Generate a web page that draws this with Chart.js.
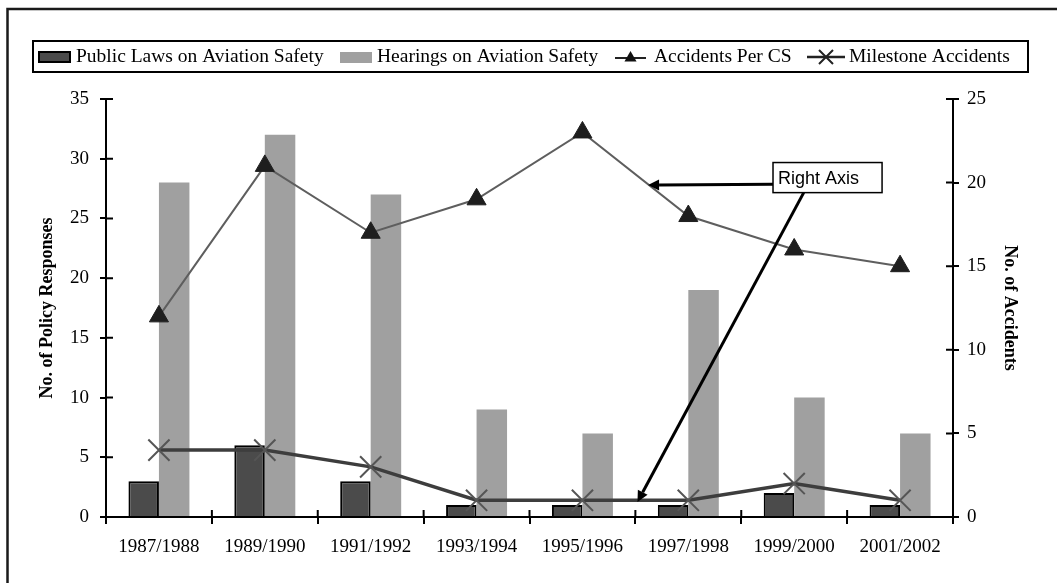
<!DOCTYPE html>
<html>
<head>
<meta charset="utf-8">
<script src="https://cdn.jsdelivr.net/npm/chart.js@4.4.0/dist/chart.umd.min.js"></script>
<style>
html,body{margin:0;padding:0;background:#fff;}
#wrap{position:relative;width:1057px;height:583px;}
</style>
</head>
<body>
<div id="wrap"><canvas id="c" width="1057" height="583"></canvas></div>
<script>
// ---- data ----
const categories = ['1987/1988','1989/1990','1991/1992','1993/1994','1995/1996','1997/1998','1999/2000','2001/2002'];
const publicLaws = [3, 6, 3, 1, 1, 1, 2, 1];
const hearings = [28, 32, 27, 9, 7, 19, 10, 7];
const accidentsPerCS = [12, 21, 17, 19, 23, 18, 16, 15];
const milestoneAccidents = [4, 4, 3, 1, 1, 1, 2, 1];
const leftTicks = [0, 5, 10, 15, 20, 25, 30, 35];
const rightTicks = [0, 5, 10, 15, 20, 25];
const seriesNames = ['Public Laws on Aviation Safety', 'Hearings on Aviation Safety', 'Accidents Per CS', 'Milestone Accidents'];
const axisTitles = ['No. of Policy Responses', 'No. of Accidents'];
const noteText = 'Right Axis';

// annotation anchors in data units (category index, right-axis value)
const noteBox = {x0: 5.80, y0: 21.2, x1: 6.83, y1: 19.4};
const arrowA = {from: [5.80, 19.9], to: [4.62, 19.85]};
const arrowB = {from: [6.09, 19.4], to: [4.52, 0.9]};

const SERIF = '"Liberation Serif", "Times New Roman", serif';
const SANS = '"Liberation Sans", Arial, sans-serif';
const DARK = '#4b4b4b';
const GRAY = '#a0a0a0';
const ACC_LINE = '#5e5e5e';
const MS_LINE = '#3d3d3d';
const MS_MARK = '#555555';

function drawX(ctx, x, y, h) {
  ctx.beginPath();
  ctx.moveTo(x - h, y - h); ctx.lineTo(x + h, y + h);
  ctx.moveTo(x + h, y - h); ctx.lineTo(x - h, y + h);
  ctx.stroke();
}
function drawTri(ctx, x, y, r) {
  ctx.beginPath();
  ctx.moveTo(x, y - r);
  ctx.lineTo(x + r * 0.866, y + r * 0.5);
  ctx.lineTo(x - r * 0.866, y + r * 0.5);
  ctx.closePath();
  ctx.fill();
}
function arrow(ctx, x0, y0, x1, y1) {
  const ang = Math.atan2(y1 - y0, x1 - x0);
  const L = 11, W = 5.5;
  const bx = x1 - Math.cos(ang) * L, by = y1 - Math.sin(ang) * L;
  ctx.beginPath();
  ctx.moveTo(x0, y0); ctx.lineTo(bx, by);
  ctx.stroke();
  ctx.beginPath();
  ctx.moveTo(x1, y1);
  ctx.lineTo(bx + Math.sin(ang) * W, by - Math.cos(ang) * W);
  ctx.lineTo(bx - Math.sin(ang) * W, by + Math.cos(ang) * W);
  ctx.closePath();
  ctx.fill();
}

const framePlugin = {
  id: 'frame',
  beforeDraw(chart) {
    const ctx = chart.ctx;
    ctx.save();
    ctx.fillStyle = '#fff';
    ctx.fillRect(0, 0, chart.width, chart.height);
    ctx.restore();
  },
  afterDraw(chart) {
    const ctx = chart.ctx;
    ctx.save();
    ctx.strokeStyle = '#1a1a1a';
    ctx.lineWidth = 2.5;
    ctx.beginPath();
    ctx.moveTo(7.5, chart.height + 5);
    ctx.lineTo(7.5, 9);
    ctx.lineTo(chart.width + 5, 9);
    ctx.stroke();
    ctx.restore();
  }
};

const innerTicks = {
  id: 'innerTicks',
  afterDraw(chart) {
    const ctx = chart.ctx;
    const {x, y, y1} = chart.scales;
    ctx.save();
    ctx.strokeStyle = '#000';
    ctx.lineWidth = 2;
    ctx.beginPath();
    y.ticks.forEach((t, i) => { const p = y.getPixelForTick(i); ctx.moveTo(y.right, p); ctx.lineTo(y.right + 7, p); });
    y1.ticks.forEach((t, i) => { const p = y1.getPixelForTick(i); ctx.moveTo(y1.left, p); ctx.lineTo(y1.left - 7, p); });
    const n = categories.length;
    for (let i = 0; i <= n; i++) {
      const p = x.left + i * (x.width / n);
      ctx.moveTo(p, x.top); ctx.lineTo(p, x.top - 7);
    }
    ctx.stroke();
    ctx.restore();
  }
};

const legendPlugin = {
  id: 'customLegend',
  afterDraw(chart) {
    const ctx = chart.ctx;
    ctx.save();
    ctx.strokeStyle = '#000';
    ctx.lineWidth = 2;
    ctx.strokeRect(33, 41, 995, 31);
    const cy = 57;
    ctx.font = '19.5px ' + SERIF;
    ctx.fillStyle = '#000';
    ctx.textBaseline = 'middle';
    // item 1
    ctx.fillStyle = DARK;
    ctx.fillRect(38, 51, 33, 12);
    ctx.lineWidth = 2;
    ctx.strokeStyle = '#000';
    ctx.strokeRect(39, 52, 31, 10);
    ctx.fillStyle = '#000';
    ctx.fillText(seriesNames[0], 76, cy);
    // item 2
    ctx.fillStyle = GRAY;
    ctx.fillRect(340, 52, 32, 11);
    ctx.fillStyle = '#000';
    ctx.fillText(seriesNames[1], 377, cy);
    // item 3
    ctx.strokeStyle = '#222';
    ctx.lineWidth = 2;
    ctx.beginPath(); ctx.moveTo(615, cy + 1); ctx.lineTo(646, cy + 1); ctx.stroke();
    ctx.fillStyle = '#111';
    drawTri(ctx, 630.5, cy + 1, 7);
    ctx.fillStyle = '#000';
    ctx.fillText(seriesNames[2], 654, cy);
    // item 4
    ctx.strokeStyle = '#222';
    ctx.lineWidth = 2.5;
    ctx.beginPath(); ctx.moveTo(807, cy); ctx.lineTo(845, cy); ctx.stroke();
    ctx.lineWidth = 2;
    drawX(ctx, 826, cy, 7);
    ctx.fillStyle = '#000';
    ctx.fillText(seriesNames[3], 849, cy);
    ctx.restore();
  }
};

const notePlugin = {
  id: 'note',
  afterDatasetsDraw(chart) {
    const ctx = chart.ctx;
    const {x, y1} = chart.scales;
    const step = x.getPixelForValue(1) - x.getPixelForValue(0);
    const px = v => x.getPixelForValue(0) + v * step;
    const py = v => y1.getPixelForValue(v);
    ctx.save();
    ctx.strokeStyle = '#000';
    ctx.fillStyle = '#000';
    ctx.lineWidth = 3;
    arrow(ctx, px(arrowA.from[0]), py(arrowA.from[1]), px(arrowA.to[0]), py(arrowA.to[1]));
    arrow(ctx, px(arrowB.from[0]), py(arrowB.from[1]), px(arrowB.to[0]), py(arrowB.to[1]));
    const bx0 = px(noteBox.x0), by0 = py(noteBox.y0), bx1 = px(noteBox.x1), by1 = py(noteBox.y1);
    ctx.fillStyle = '#fff';
    ctx.fillRect(bx0, by0, bx1 - bx0, by1 - by0);
    ctx.lineWidth = 1.5;
    ctx.strokeRect(bx0, by0, bx1 - bx0, by1 - by0);
    ctx.fillStyle = '#000';
    ctx.font = '18px ' + SANS;
    ctx.textBaseline = 'middle';
    ctx.fillText(noteText, bx0 + 5, (by0 + by1) / 2 + 1);
    ctx.restore();
  }
};

new Chart(document.getElementById('c'), {
  data: {
    labels: categories,
    datasets: [
      {type: 'bar', label: seriesNames[0], data: publicLaws, yAxisID: 'y', backgroundColor: DARK,
       borderColor: '#000', borderWidth: 2, borderSkipped: 'start', order: 3,
       categoryPercentage: 0.576, barPercentage: 1.0},
      {type: 'bar', label: seriesNames[1], data: hearings, yAxisID: 'y', backgroundColor: GRAY,
       borderWidth: 0, order: 3, categoryPercentage: 0.576, barPercentage: 1.0},
      {type: 'line', label: seriesNames[2], data: accidentsPerCS, yAxisID: 'y1', borderColor: ACC_LINE,
       borderWidth: 2, pointStyle: 'triangle', pointRadius: 11, pointBackgroundColor: '#1e1e1e',
       pointBorderColor: '#1e1e1e', pointBorderWidth: 1, tension: 0, fill: false, order: 1},
      {type: 'line', label: seriesNames[3], data: milestoneAccidents, yAxisID: 'y1', borderColor: MS_LINE,
       borderWidth: 3.5, pointStyle: 'crossRot', pointRadius: 15, pointBorderColor: MS_MARK,
       pointBorderWidth: 2, tension: 0, fill: false, order: 2}
    ]
  },
  options: {
    responsive: false,
    animation: false,
    events: [],
    layout: {padding: {top: 99, left: 0, right: 0, bottom: 0}},
    plugins: {legend: {display: false}, tooltip: {enabled: false}, title: {display: false}},
    scales: {
      x: {
        type: 'category',
        offset: true,
        grid: {offset: true, drawOnChartArea: false, drawTicks: true, tickLength: 7, color: '#000', lineWidth: 2},
        border: {display: true, color: '#000', width: 2},
        ticks: {color: '#000', font: {family: SERIF, size: 19}, padding: 12, maxRotation: 0, autoSkip: false},
        afterFit(s) { s.height = 66; }
      },
      y: {
        type: 'linear', position: 'left', min: 0, max: 35,
        afterBuildTicks(s) { s.ticks = leftTicks.map(v => ({value: v})); },
        grid: {drawOnChartArea: false, drawTicks: true, tickLength: 6, color: '#000', lineWidth: 2},
        border: {display: true, color: '#000', width: 2},
        ticks: {color: '#000', font: {family: SERIF, size: 19}, padding: 11},
        title: {display: true, text: axisTitles[0], color: '#000', font: {family: SERIF, size: 18, weight: 'bold'}, padding: {top: 37, bottom: 0}},
        afterFit(s) { s.width = 106; }
      },
      y1: {
        type: 'linear', position: 'right', min: 0, max: 25,
        afterBuildTicks(s) { s.ticks = rightTicks.map(v => ({value: v})); },
        grid: {drawOnChartArea: false, drawTicks: true, tickLength: 6, color: '#000', lineWidth: 2},
        border: {display: true, color: '#000', width: 2},
        ticks: {color: '#000', font: {family: SERIF, size: 19}, padding: 8},
        title: {display: true, text: axisTitles[1], color: '#000', font: {family: SERIF, size: 18, weight: 'bold'}, padding: {top: 37, bottom: 0}},
        afterFit(s) { s.width = 104; }
      }
    }
  },
  plugins: [framePlugin, innerTicks, legendPlugin, notePlugin]
});
</script>
</body>
</html>
